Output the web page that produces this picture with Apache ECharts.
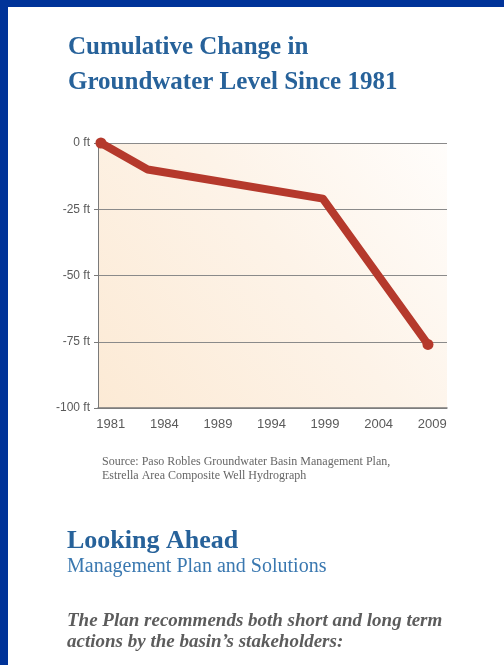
<!DOCTYPE html>
<html>
<head>
<meta charset="utf-8">
<script src="https://cdn.jsdelivr.net/npm/echarts@6/dist/echarts.min.js"></script>
<style>
html,body{margin:0;padding:0;background:#fff;}
#c{width:504px;height:665px;}
</style>
</head>
<body>
<div id="c"></div>
<script>
// Data
const years = [1981, 1985, 2000, 2009];
const levelFt = [0, -10, -21, -76];
const xTickLabels = ['1981', '1984', '1989', '1994', '1999', '2004', '2009'];
const yTicks = [0, -25, -50, -75, -100];

const chart = echarts.init(document.getElementById('c'), null, {renderer: 'canvas'});
const titleBlue = '#27629a';
const serif = '"Liberation Serif", "DejaVu Serif", serif';
const sans = '"Liberation Sans", Arial, sans-serif';

const option = {
  animation: false,
  backgroundColor: '#ffffff',
  grid: [
    {left: 98, right: 57, top: 143, bottom: 257, show: true, borderWidth: 0,
     backgroundColor: new echarts.graphic.LinearGradient(0, 1, 1, 0, [
       {offset: 0, color: '#fcead5'},
       {offset: 0.55, color: '#fdf3e8'},
       {offset: 1, color: '#fffdfb'}
     ])},
    {left: 84, right: 45, top: 143, bottom: 257}
  ],
  xAxis: [
    {type: 'value', gridIndex: 0, min: 1980.75, max: 2010.63, show: true,
     axisLine: {show: true, onZero: false, lineStyle: {color: '#7a7a7a', width: 1.5}},
     axisTick: {show: false}, axisLabel: {show: false}, splitLine: {show: false}},
    {type: 'category', gridIndex: 1, data: xTickLabels, boundaryGap: true,
     axisLine: {show: false}, axisTick: {show: false},
     axisLabel: {color: '#5a5a5a', fontSize: 13, fontFamily: sans, margin: 10}}
  ],
  yAxis: [
    {type: 'value', gridIndex: 0, min: -100, max: 0, interval: 25,
     axisLine: {show: true, lineStyle: {color: '#7a7a7a', width: 1}},
     axisTick: {show: true, length: 4, lineStyle: {color: '#7a7a7a'}},
     axisLabel: {color: '#5a5a5a', fontSize: 12, fontFamily: sans, margin: 8,
       formatter: v => v + ' ft'},
     splitLine: {show: true, lineStyle: {color: '#8a8a8a', width: 1}}},
    {type: 'value', gridIndex: 1, show: false, min: -100, max: 0}
  ],
  series: [{
    type: 'line',
    xAxisIndex: 0, yAxisIndex: 0,
    data: years.map((y, i) => [y, levelFt[i]]),
    symbol: 'circle',
    symbolSize: (v, p) => (p.dataIndex === 0 || p.dataIndex === years.length - 1) ? 11 : 0,
    showSymbol: true,
    itemStyle: {color: '#b5392c'},
    lineStyle: {color: '#b5392c', width: 8, cap: 'round', join: 'round'},
    z: 5
  }],
  graphic: [
    {type: 'rect', shape: {x: 0, y: 0, width: 504, height: 7}, style: {fill: '#003399'}, z: 100},
    {type: 'rect', shape: {x: 0, y: 0, width: 8, height: 665}, style: {fill: '#003399'}, z: 100},
    {type: 'text', left: 68, top: 35, style: {text: 'Cumulative Change in', font: 'bold 25px ' + serif, fill: titleBlue}},
    {type: 'text', left: 68, top: 70, style: {text: 'Groundwater Level Since 1981', font: 'bold 25px ' + serif, fill: titleBlue}},
    {type: 'text', left: 102, top: 456, style: {text: 'Source: Paso Robles Groundwater Basin Management Plan,', font: '12px ' + serif, fill: '#666666'}},
    {type: 'text', left: 102, top: 470, style: {text: 'Estrella Area Composite Well Hydrograph', font: '12px ' + serif, fill: '#666666'}},
    {type: 'text', left: 67, top: 528, style: {text: 'Looking Ahead', font: 'bold 26px ' + serif, fill: titleBlue}},
    {type: 'text', left: 67, top: 557, style: {text: 'Management Plan and Solutions', font: '20px ' + serif, fill: '#3a78b0'}},
    {type: 'text', left: 67, top: 612, style: {text: 'The Plan recommends both short and long term', font: 'italic bold 19px ' + serif, fill: '#5c5c5c'}},
    {type: 'text', left: 67, top: 633, style: {text: 'actions by the basin\u2019s stakeholders:', font: 'italic bold 19px ' + serif, fill: '#5c5c5c'}}
  ]
};
chart.setOption(option);
</script>
</body>
</html>
